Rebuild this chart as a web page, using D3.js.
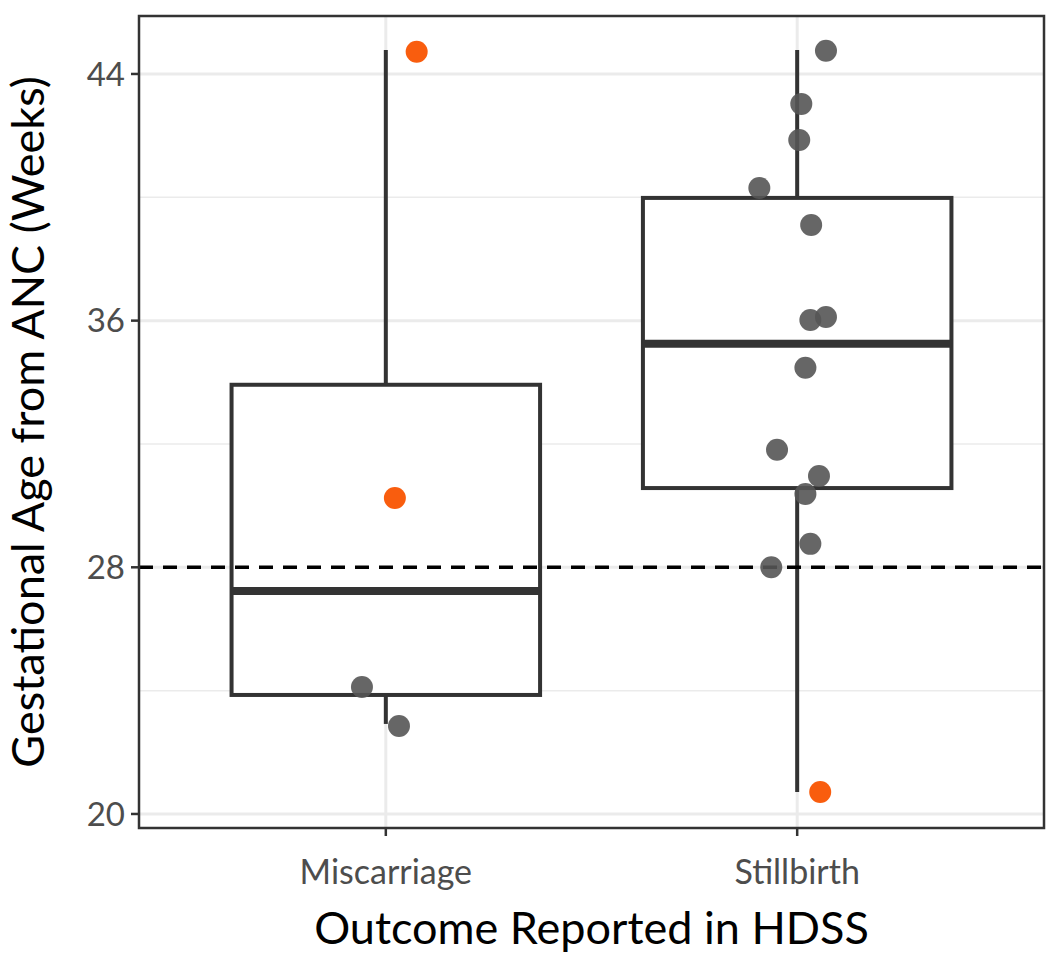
<!DOCTYPE html>
<html><head><meta charset="utf-8">
<script src="https://cdn.jsdelivr.net/npm/d3@7"></script>
<style>body{margin:0;background:#fff}</style></head>
<body><svg id="c" width="1050" height="955"></svg>
<script>
const categories = ["Miscarriage", "Stillbirth"];
const boxLow = [22.92, 20.71];
const boxQ1 = [23.86, 30.57];
const boxMed = [27.23, 35.25];
const boxQ3 = [33.92, 39.98];
const boxHigh = [44.78, 44.78];
const pointCat = [0,0,0,0, 1,1,1,1,1,1,1,1,1,1,1,1,1,1];
const pointVal = [44.72,30.25,24.12,22.85, 44.75,43.03,41.86,40.3,39.1,36.02,36.12,34.47,31.81,30.96,30.38,28.76,28.0,20.71];
const pointJitter = [0.075,0.022,-0.058,0.032, 0.07,0.01,0.005,-0.092,0.034,0.032,0.07,0.02,-0.049,0.053,0.02,0.032,-0.063,0.056];
const pointFlag = [1,1,0,0, 0,0,0,0,0,0,0,0,0,0,0,0,0,1];
const yTicks = [20, 28, 36, 44];
const yMinor = [24, 32, 40];
const refLine = 28;

const svg = d3.select("#c");
const L=139,R=1044,T=16,B=828;
const x = d3.scaleLinear().domain([0.4,2.6]).range([L,R]);
const y = d3.scaleLinear().domain([19.545,45.88]).range([B,T]);
const g = svg.append("g");
g.selectAll(".gm").data(yMinor).enter().append("line").attr("x1",L).attr("x2",R)
 .attr("y1",d=>y(d)).attr("y2",d=>y(d)).attr("stroke","#ebebeb").attr("stroke-width",1.5);
g.selectAll(".gM").data(yTicks).enter().append("line").attr("x1",L).attr("x2",R)
 .attr("y1",d=>y(d)).attr("y2",d=>y(d)).attr("stroke","#ebebeb").attr("stroke-width",3);
g.selectAll(".gx").data(categories).enter().append("line").attr("y1",T).attr("y2",B)
 .attr("x1",(d,i)=>x(i+1)).attr("x2",(d,i)=>x(i+1)).attr("stroke","#ebebeb").attr("stroke-width",3);

const hw=0.375;
categories.forEach((c,i)=>{
  const cx=x(i+1);
  g.append("line").attr("x1",cx).attr("x2",cx).attr("y1",y(boxQ3[i])).attr("y2",y(boxHigh[i])).attr("stroke","#333").attr("stroke-width",4);
  g.append("line").attr("x1",cx).attr("x2",cx).attr("y1",y(boxQ1[i])).attr("y2",y(boxLow[i])).attr("stroke","#333").attr("stroke-width",4);
  g.append("rect").attr("x",x(i+1-hw)).attr("width",x(i+1+hw)-x(i+1-hw)).attr("y",y(boxQ3[i])).attr("height",y(boxQ1[i])-y(boxQ3[i]))
   .attr("fill","#fff").attr("stroke","#333").attr("stroke-width",4);
  g.append("line").attr("x1",x(i+1-hw)).attr("x2",x(i+1+hw)).attr("y1",y(boxMed[i])).attr("y2",y(boxMed[i])).attr("stroke","#333").attr("stroke-width",8);
});
g.append("line").attr("x1",L).attr("x2",R).attr("y1",y(refLine)).attr("y2",y(refLine))
 .attr("stroke","#000").attr("stroke-width",3.5).attr("stroke-dasharray","14,10");
g.selectAll(".pt").data(pointVal).enter().append("circle")
 .attr("cx",(d,i)=>x(pointCat[i]+1+pointJitter[i])).attr("cy",d=>y(d)).attr("r",11)
 .attr("fill",(d,i)=>pointFlag[i]?"#f95d0e":"#555").attr("fill-opacity",(d,i)=>pointFlag[i]?1:0.9);
g.append("rect").attr("x",L).attr("y",T).attr("width",R-L).attr("height",B-T).attr("fill","none").attr("stroke","#333").attr("stroke-width",2.5);

const F="Lato, 'Open Sans', sans-serif";
yTicks.forEach(t=>{
  svg.append("line").attr("x1",L-8).attr("x2",L).attr("y1",y(t)).attr("y2",y(t)).attr("stroke","#333").attr("stroke-width",2.5);
  svg.append("text").attr("x",L-14).attr("y",y(t)).attr("dy","0.35em").attr("text-anchor","end")
   .attr("font-family",F).attr("font-size",33).attr("fill","#4d4d4d").text(t);
});
categories.forEach((c,i)=>{
  svg.append("line").attr("x1",x(i+1)).attr("x2",x(i+1)).attr("y1",B).attr("y2",B+8).attr("stroke","#333").attr("stroke-width",2.5);
  svg.append("text").attr("x",x(i+1)).attr("y",884).attr("text-anchor","middle")
   .attr("font-family",F).attr("font-size",34).attr("fill","#4d4d4d").text(c);
});
svg.append("text").attr("x",(L+R)/2).attr("y",944).attr("text-anchor","middle")
 .attr("font-family",F).attr("font-size",45).attr("fill","#000").text("Outcome Reported in HDSS");
svg.append("text").attr("transform",`translate(44,${(T+B)/2}) rotate(-90)`).attr("text-anchor","middle")
 .attr("font-family",F).attr("font-size",45).attr("fill","#000").text("Gestational Age from ANC (Weeks)");
</script></body></html>
